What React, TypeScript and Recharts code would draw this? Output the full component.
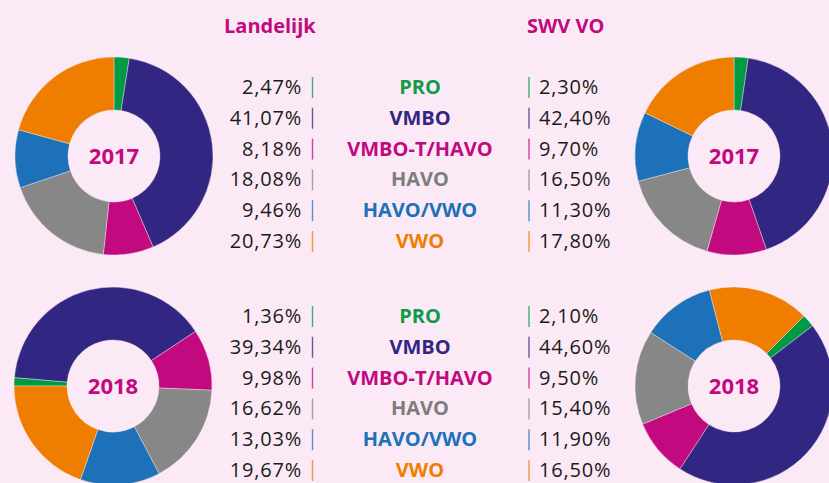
import React from 'react'
import { PieChart, Pie, Cell } from 'recharts'

const categories = ['PRO', 'VMBO', 'VMBO-T/HAVO', 'HAVO', 'HAVO/VWO', 'VWO']
const landelijk2017 = [2.47, 41.07, 8.18, 18.08, 9.46, 20.73]
const swv2017 = [2.3, 42.4, 9.7, 16.5, 11.3, 17.8]
const landelijk2018 = [1.36, 39.34, 9.98, 16.62, 13.03, 19.67]
const swv2018 = [2.1, 44.6, 9.5, 15.4, 11.9, 16.5]
const years = ['2017', '2018']
const headers = ['Landelijk', 'SWV VO']

const colors = ['#009a44', '#312783', '#c2097f', '#878787', '#1d71b8', '#ef7d00']
const textColors = ['#0f9b48', '#312783', '#c2097f', '#7d7d7d', '#1d71b8', '#ef7d00']
const BG = '#fbeaf5'
const MAGENTA = '#c2097f'
const FONT = '"Open Sans", "Noto Sans", sans-serif'

const fmt = (v: number) => v.toFixed(2).replace('.', ',') + '%'
const toData = (vals: number[]) => categories.map((name, i) => ({ name, value: vals[i] }))

// pie placement: [values, year, cx, cy, startAngle]
const pies: [number[], string, number, number, number][] = [
  [landelijk2017, years[0], 114, 156, 90],
  [swv2017, years[0], 734, 156, 90],
  [landelijk2018, years[1], 113, 386, 180],
  [swv2018, years[1], 734, 386, 45],
]

const blocks = [
  { left: landelijk2017, right: swv2017, y0: 94 },
  { left: landelijk2018, right: swv2018, y0: 323 },
]
const ROW = 30.8

const App = () => {
  return (
    <div style={{ position: 'absolute', left: 0, top: 0, width: 829, height: 483, background: BG, overflow: 'hidden' }}>
      <PieChart
        width={829}
        height={483}
        margin={{ top: 0, right: 0, bottom: 0, left: 0 }}
        style={{ position: 'absolute', left: 0, top: 0 }}
      >
        {pies.map(([vals, , cx, cy, start], k) => (
          <Pie
            key={k}
            data={toData(vals)}
            dataKey="value"
            nameKey="name"
            cx={cx}
            cy={cy}
            innerRadius={46}
            outerRadius={99}
            startAngle={start}
            endAngle={start - 360}
            stroke={BG}
            strokeWidth={0.4}
            isAnimationActive={false}
          >
            {vals.map((_, i) => (
              <Cell key={i} fill={colors[i]} />
            ))}
          </Pie>
        ))}
      </PieChart>
      <svg width={829} height={483} style={{ position: 'absolute', left: 0, top: 0 }} fontFamily={FONT}>
        {pies.map(([, year, cx, cy], k) => (
          <text key={k} x={cx} y={cy + 8} textAnchor="middle" fill={MAGENTA} fontSize={22} fontWeight={700}>
            {year}
          </text>
        ))}
        <text x={224} y={33} fill={MAGENTA} fontSize={20} fontWeight={700}>{headers[0]}</text>
        <text x={527} y={33} fill={MAGENTA} fontSize={20} fontWeight={700}>{headers[1]}</text>
        {blocks.map((b, k) => (
          <g key={k}>
            {categories.map((c, i) => {
              const y = b.y0 + i * ROW
              return (
                <g key={c}>
                  <text x={302} y={y} textAnchor="end" fontSize={20} letterSpacing={0.8} fill="#1a1a1a">{fmt(b.left[i])}</text>
                  <line x1={312.5} x2={312.5} y1={y - 17} y2={y + 4} stroke={colors[i]} strokeOpacity={0.75} strokeWidth={1.4} />
                  <text x={420} y={y} textAnchor="middle" fontSize={20} fontWeight={700} fill={textColors[i]}>{c}</text>
                  <line x1={529} x2={529} y1={y - 17} y2={y + 4} stroke={colors[i]} strokeOpacity={0.75} strokeWidth={1.4} />
                  <text x={539} y={y} fontSize={20} letterSpacing={0.8} fill="#1a1a1a">{fmt(b.right[i])}</text>
                </g>
              )
            })}
          </g>
        ))}
      </svg>
    </div>
  )
}

export default App
